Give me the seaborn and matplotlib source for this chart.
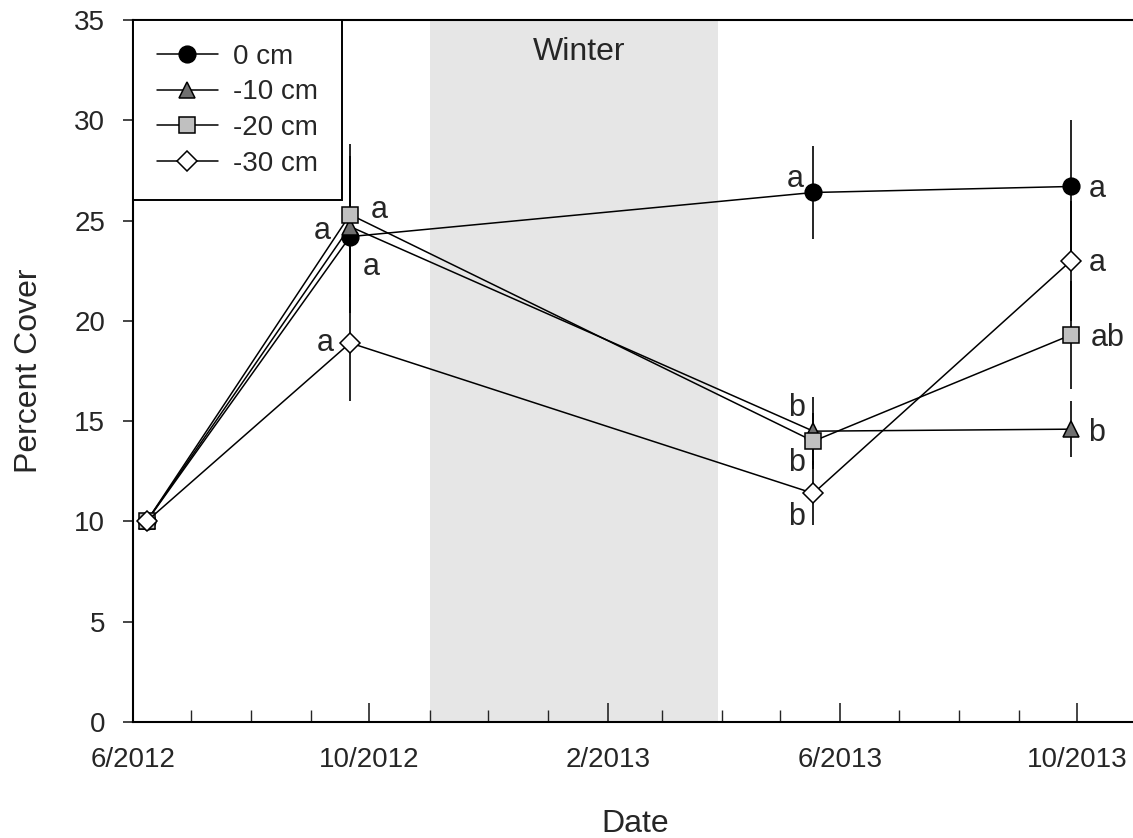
import matplotlib
matplotlib.use("Agg")
import matplotlib.pyplot as plt
import matplotlib.dates as mdates
import seaborn as sns
import pandas as pd
import numpy as np

sns.set_style("ticks")
plt.rcParams['font.family'] = ['Liberation Sans', 'DejaVu Sans']

# sampling dates and values
dates = pd.to_datetime(['2012-06-08', '2012-09-21', '2013-05-18', '2013-09-28'])
depths = ['0 cm', '-10 cm', '-20 cm', '-30 cm']
cover_0 = [10.0, 24.2, 26.4, 26.7]
cover_10 = [10.0, 24.7, 14.5, 14.6]
cover_20 = [10.0, 25.3, 14.0, 19.3]
cover_30 = [10.0, 18.9, 11.4, 23.0]
err_0 = [0, 3.8, 2.3, 3.3]
err_10 = [0, 3.5, 1.7, 1.4]
err_20 = [0, 3.5, 1.4, 2.7]
err_30 = [0, 2.9, 1.6, 3.0]
letters_0 = ['', 'a', 'a', 'a']
letters_10 = ['', 'a', 'b', 'b']
letters_20 = ['', 'a', 'b', 'ab']
letters_30 = ['', 'a', 'b', 'a']

values = [cover_0, cover_10, cover_20, cover_30]
errors = [err_0, err_10, err_20, err_30]
letters = [letters_0, letters_10, letters_20, letters_30]

markers = ['o', '^', 's', 'D']
fills = ['black', '#707070', '#c0c0c0', 'white']
msizes = [12, 11, 11, 10]

# letter offsets (points) for each series at each date
offsets = [
    [None, (15, -22), (-13, 10), (19, -2)],
    [None, (-20, -3), (-12, 17), (18, -3)],
    [None, (21, 3), (-12, -16), (26, -2)],
    [None, (-18, 0), (-12, -17), (19, -2)],
]

fig = plt.figure(figsize=(11.33, 8.38), dpi=100)
ax = fig.add_axes([133 / 1133, (838 - 722) / 838, (1137 - 133) / 1133, (722 - 20) / 838])

ax.axvspan(pd.Timestamp('2012-11-01'), pd.Timestamp('2013-03-30'), color='#e6e6e6', lw=0, zorder=0)
ax.text(pd.Timestamp('2013-01-17'), 33.4, 'Winter', ha='center', va='center', fontsize=23)

for i, name in enumerate(depths):
    df = pd.DataFrame({'Date': dates, 'Cover': values[i]})
    v = np.array(values[i])
    e = np.array(errors[i])
    mask = e > 0
    ax.vlines(dates[mask], v[mask] - e[mask], v[mask] + e[mask], color='black', lw=1.2, zorder=2)
    sns.lineplot(data=df, x='Date', y='Cover', ax=ax, color='black', lw=1.1,
                 marker=markers[i], markersize=msizes[i], markerfacecolor=fills[i],
                 markeredgecolor='black', markeredgewidth=1.1, label=name, zorder=3 + i * 0.1)
    for j in range(len(dates)):
        if letters[i][j]:
            ax.annotate(letters[i][j], (dates[j], values[i][j]), xytext=offsets[i][j],
                        textcoords='offset points', ha='center', va='center', fontsize=22)

ax.set_xlim(pd.Timestamp('2012-06-01'), pd.Timestamp('2013-11-01'))
ax.set_ylim(0, 35)
ax.set_yticks(range(0, 36, 5))
ax.xaxis.set_major_locator(mdates.MonthLocator(bymonth=[2, 6, 10]))
ax.xaxis.set_minor_locator(mdates.MonthLocator())
ax.xaxis.set_major_formatter(plt.FuncFormatter(
    lambda x, pos: f"{mdates.num2date(x).month}/{mdates.num2date(x).year}"))

ax.tick_params(axis='x', which='major', direction='in', length=14, width=1.2, labelsize=20, pad=18)
ax.tick_params(axis='x', which='minor', direction='in', length=8.5, width=1.0)
ax.tick_params(axis='y', direction='out', length=7, width=1.2, labelsize=20, pad=13)

for s in ['left', 'bottom', 'top']:
    ax.spines[s].set_linewidth(1.5)
    ax.spines[s].set_color('black')
ax.spines['right'].set_visible(False)

ax.set_xlabel('Date', fontsize=23, labelpad=26)
ax.set_ylabel('Percent Cover', fontsize=23, labelpad=22)
ax.grid(False)

leg = ax.legend(loc='upper left', borderaxespad=0, frameon=True, fancybox=False,
                edgecolor='black', fontsize=20, handlelength=2.2, labelspacing=0.35,
                borderpad=0.85, handletextpad=0.55)
leg.get_frame().set_linewidth(1.4)
leg.get_frame().set_alpha(1)

fig.savefig('out.png', dpi=100)
